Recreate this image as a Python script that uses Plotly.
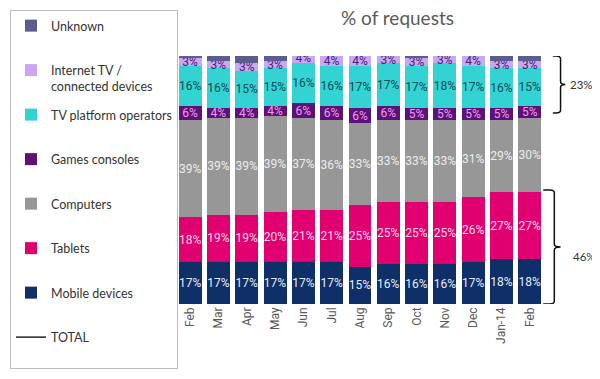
import plotly.graph_objects as go

months = ["Feb", "Mar", "Apr", "May", "Jun", "Jul", "Aug", "Sep", "Oct", "Nov", "Dec", "Jan-14", "Feb"]
mobile = [17, 17, 17, 17, 17, 17, 15, 16, 16, 16, 17, 18, 18]
tablets = [18, 19, 19, 20, 21, 21, 25, 25, 25, 25, 26, 27, 27]
computers = [39, 39, 39, 39, 37, 36, 33, 33, 33, 33, 31, 29, 30]
games = [6, 4, 4, 4, 6, 6, 6, 6, 5, 5, 5, 5, 5]
tv_platform = [16, 16, 15, 15, 16, 16, 17, 17, 17, 18, 17, 16, 15]
internet_tv = [3, 3, 3, 3, 4, 4, 4, 3, 3, 3, 4, 3, 3]
unknown = [1, 2, 3, 2, 0.5, 0.5, 1, 1, 1, 1, 1, 2, 2]

bracket_top = 23     # % share bracketed at the top
bracket_bottom = 46  # % share bracketed at the bottom

# x = unique category keys (two "Feb")
xkeys = list(range(len(months)))

BLANK = "<br>&nbsp;"
series = [
    ("Mobile devices" + BLANK, mobile, "#0f2f68", "#e6ecf7", True),
    ("Tablets" + BLANK, tablets, "#e0006f", "#ffd2ea", True),
    ("Computers" + BLANK, computers, "#979797", "#ececec", True),
    ("Games consoles" + BLANK, games, "#5b1379", "#f39ae8", True),
    ("TV platform operators" + BLANK, tv_platform, "#33d3d3", "#0b4d55", True),
    ("Internet TV /<br>connected devices", internet_tv, "#c8a7f3", "#4b2272", True),
    ("Unknown" + BLANK, unknown, "#5e5b8e", "#ffffff", False),
]
n = len(series)

fig = go.Figure()

for i, (name, vals, col, tcol, show) in enumerate(series):
    fig.add_trace(go.Bar(
        x=xkeys, y=vals, name=name,
        marker=dict(color=col, line=dict(width=0)),
        text=[f"{v}%" for v in vals] if show else None,
        textposition="inside" if show else "none",
        insidetextanchor="middle",
        textangle=0,
        textfont=dict(color=tcol, size=12, family="Roboto"),
        legendgroup=f"g{i}",
        legendrank=n - i,
    ))

fig.add_trace(go.Scatter(
    x=[None], y=[None], mode="lines", name="TOTAL" + BLANK,
    line=dict(color="#222222", width=1.5), legendgroup="gT",
    legendrank=n + 1, hoverinfo="skip",
))

# brackets (y in data units, derived from bracket values)
def brace(x0, x1, xt, y0, y1):
    ym = (y0 + y1) / 2
    r = 0.012
    dy = 1.2
    return (f"M {x0} {y0} L {x1 - r} {y0} Q {x1} {y0} {x1} {y0 - dy} "
            f"L {x1} {ym + dy} Q {x1} {ym} {xt} {ym} "
            f"Q {x1} {ym} {x1} {ym - dy} L {x1} {y1 + dy} "
            f"Q {x1} {y1} {x1 - r} {y1} L {x0} {y1}")

fig.add_shape(type="path", xref="paper", yref="y",
              path=brace(1.024, 1.045, 1.058, 100, 100 - bracket_top),
              line=dict(color="#111111", width=1.5))
fig.add_shape(type="path", xref="paper", yref="y",
              path=brace(0.998, 1.028, 1.045, bracket_bottom, 0),
              line=dict(color="#111111", width=1.5))
fig.add_annotation(xref="paper", yref="y", x=1.064, y=100 - bracket_top / 2,
                   text=f"{bracket_top}%", showarrow=False, xanchor="left",
                   font=dict(size=11.5, color="#333333", family="Lato"))
fig.add_annotation(xref="paper", yref="y", x=1.074, y=bracket_bottom / 2 - 4,
                   text=f"{bracket_bottom}%", showarrow=False, xanchor="left",
                   font=dict(size=11.5, color="#333333", family="Lato"))

# page body adds an 8px offset; the figure is laid out to compensate
W, H = 592, 371
fig.add_annotation(xref="paper", yref="paper", x=(389 - 168) / 368,
                   y=(296 - 10) / 248, xanchor="center", yanchor="middle",
                   text="% of requests", showarrow=False,
                   font=dict(size=19, color="#5a5a5a", family="Lato"))

fig.update_layout(
    width=W, height=H,
    barmode="stack", bargap=0.19,
    margin=dict(l=168, r=56, t=48, b=75, autoexpand=False),
    plot_bgcolor="white", paper_bgcolor="white",
    uniformtext=dict(minsize=11, mode="show"),
    legend=dict(
        xref="container", yref="container",
        x=(10 - 8) / W, y=1 - 2 / H, xanchor="left", yanchor="top",
        traceorder="grouped", tracegroupgap=9,
        valign="top", maxheight=1,
        bordercolor="#bdbdbd", borderwidth=1, bgcolor="white",
        font=dict(size=12.5, color="#333333", family="Lato"),
    ),
    xaxis=dict(tickmode="array", tickvals=xkeys, ticktext=months,
               tickangle=-90, showgrid=False, showline=False, zeroline=False,
               tickfont=dict(size=12, color="#595959", family="Roboto"),
               ticks="", fixedrange=True),
    yaxis=dict(range=[0, 100], visible=False, showgrid=False, fixedrange=True),
    showlegend=True,
)

fig.write_html("out.html")
